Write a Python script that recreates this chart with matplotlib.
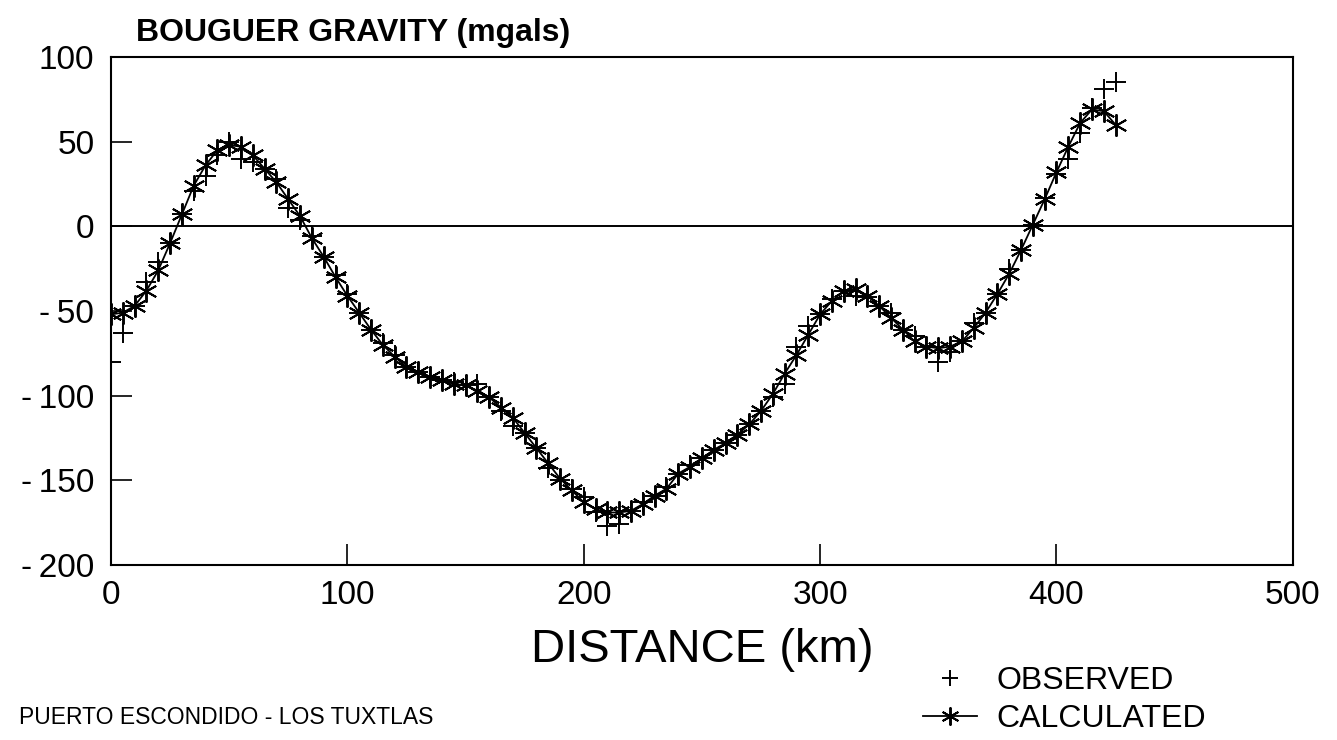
import numpy as np
import matplotlib
matplotlib.use("Agg")
import matplotlib.pyplot as plt

plt.rcParams['font.family'] = ['Liberation Sans', 'DejaVu Sans']

# Profile distance (km), one station every 5 km
distance_km = np.arange(0, 430, 5)

# Calculated Bouguer anomaly (mgals)
calculated = [
    -52, -51, -47, -38, -26, -10, 7, 24, 36, 45,
    48, 47, 42, 34, 26, 16, 6, -7, -18, -30,
    -41, -51, -61, -70, -77, -83, -86, -89, -91, -93,
    -94, -97, -101, -107, -113, -122, -131, -140, -149, -156,
    -163, -167, -169, -169, -168, -164, -159, -155, -146, -142,
    -137, -132, -128, -123, -117, -109, -99, -87, -76, -64,
    -52, -44, -38, -37, -41, -47, -54, -61, -68, -71,
    -72, -71, -68, -60, -51, -40, -28, -14, 1, 16,
    32, 47, 61, 69, 68, 60,
]

# Observed Bouguer anomaly (mgals)
observed = [
    -80, -63, -47, -33, -21, -10, 7, 21, 30, 42,
    50, 40, 38, 34, 28, 11, 4, -6, -18, -29,
    -40, -51, -61, -69, -76, -83, -86, -89, -91, -92,
    -94, -93, -101, -109, -118, -122, -131, -143, -150, -155,
    -160, -169, -177, -176, -168, -163, -159, -154, -146, -141,
    -137, -132, -128, -123, -117, -109, -101, -93, -71, -59,
    -52, -43, -38, -41, -42, -47, -51, -61, -65, -71,
    -80, -74, -68, -57, -51, -40, -25, -14, 1, 17,
    31, 40, 55, 70, 81, 85,
]

fig = plt.figure(figsize=(13.37, 7.40), dpi=100)
ax = fig.add_axes([0.083, 0.2365, 0.884, 0.6865])

asterisk = (6, 2, 0)
obs_line, = ax.plot(distance_km, observed, linestyle='none', marker='+',
                    markersize=15, markeredgewidth=1.4, color='black',
                    label='OBSERVED')
calc_line, = ax.plot(distance_km, calculated, linestyle='-', linewidth=1.3,
                     marker=asterisk, markersize=16, markeredgewidth=1.4,
                     color='black', label='CALCULATED')

ax.axhline(0, color='black', linewidth=1.4)

ax.set_xlim(0, 500)
ax.set_ylim(-200, 100)

xticks = [0, 100, 200, 300, 400, 500]
yticks = [-200, -150, -100, -50, 0, 50, 100]
ax.set_xticks(xticks)
ax.set_xticklabels([str(t) for t in xticks])
ax.set_yticks(yticks)
ax.set_yticklabels([('-\u2009' + str(-t)) if t < 0 else str(t) for t in yticks])

ax.tick_params(axis='both', direction='in', length=15, width=1.2,
               labelsize=24, top=False, right=False)
ax.tick_params(axis='x', pad=11)
ax.tick_params(axis='y', pad=12)
for s in ax.spines.values():
    s.set_linewidth(1.5)

ax.set_xlabel('DISTANCE (km)', fontsize=34, labelpad=12)

fig.text(0.102, 0.944, 'BOUGUER GRAVITY (mgals)', fontsize=23,
         fontweight='bold', ha='left', va='baseline')
fig.text(0.014, 0.022, 'PUERTO ESCONDIDO - LOS TUXTLAS', fontsize=16.5,
         ha='left', va='baseline')

leg = fig.legend(handles=[obs_line, calc_line], loc='lower left',
                 bbox_to_anchor=(0.690, 0.008), frameon=False, fontsize=23,
                 handlelength=1.7, handletextpad=0.6, labelspacing=0.25,
                 handleheight=0.7, borderpad=0.0, borderaxespad=0.0)
leg.legend_handles[0].set_markersize(11)
leg.legend_handles[1].set_markersize(13)

fig.savefig('out.png', dpi=100)
